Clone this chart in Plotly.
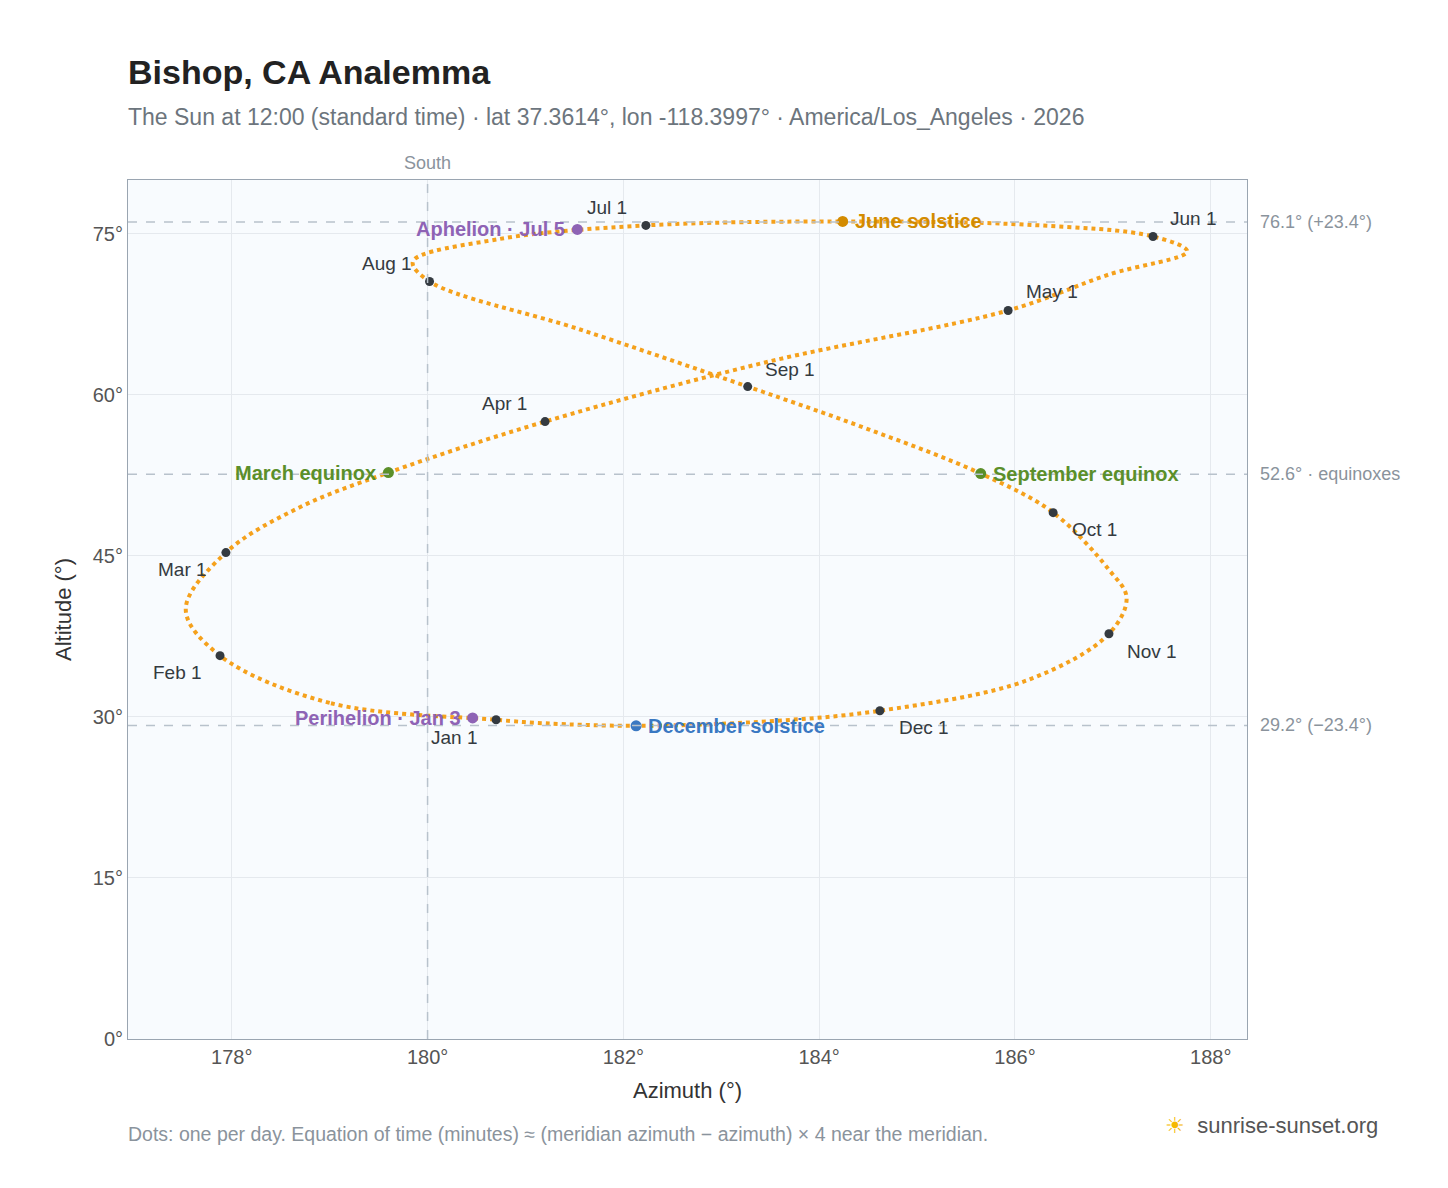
import plotly.graph_objects as go

# path of the sun at noon (date order, Jan 1 -> Dec 31)
path_az = [180.70, 179.00, 177.88, 177.53, 177.94, 178.69, 179.60, 181.20, 183.49, 185.93,
           186.96, 187.76, 187.41, 186.20, 184.24, 182.23, 180.73, 179.85, 180.02, 181.55,
           183.27, 184.51, 185.65, 186.39, 186.96, 187.14, 186.96, 186.14, 184.62, 183.39,
           182.13, 181.20, 180.70]
path_alt = [29.73, 31.30, 35.70, 40.00, 45.30, 49.50, 52.75, 57.50, 63.10, 67.85,
            71.20, 73.35, 74.74, 75.80, 76.14, 75.77, 74.50, 72.40, 70.55, 66.10,
            60.76, 56.76, 52.66, 49.02, 43.70, 41.10, 37.74, 33.46, 30.57, 29.54,
            29.17, 29.40, 29.73]

months = ["Jan 1", "Feb 1", "Mar 1", "Apr 1", "May 1", "Jun 1",
          "Jul 1", "Aug 1", "Sep 1", "Oct 1", "Nov 1", "Dec 1"]
month_az = [180.70, 177.88, 177.94, 181.20, 185.93, 187.41,
            182.23, 180.02, 183.27, 186.39, 186.96, 184.62]
month_alt = [29.73, 35.70, 45.30, 57.50, 67.85, 74.74,
             75.77, 70.55, 60.76, 49.02, 37.74, 30.57]
month_shift = [(-42, -18), (-43, -17), (-43, -17), (-41, 18), (44, 19), (40, 18),
               (-39, 18), (-43, 18), (42, 17), (41, -17), (43, -18), (44, -17)]

events = ["March equinox", "June solstice", "September equinox",
          "December solstice", "Aphelion · Jul 5", "Perihelion · Jan 3"]
event_az = [179.60, 184.24, 185.65, 182.13, 181.53, 180.46]
event_alt = [52.75, 76.14, 52.66, 29.17, 75.40, 29.90]
event_color = ["#5b8f2a", "#d38b00", "#5b8f2a", "#3a78c2", "#8e63b5", "#8e63b5"]
event_side = ["right", "left", "left", "left", "right", "right"]

ref_alt = [76.1, 52.6, 29.2]
ref_text = ["76.1° (+23.4°)", "52.6° · equinoxes", "29.2° (−23.4°)"]

# the page draws the figure 8px in from the corner
OFF = 8
L, R, T, B = 128 - OFF, 1247 - OFF, 180 - OFF, 1039 - OFF


def px(x):
    return (x - OFF - L) / (R - L)


def py(y):
    return (B - (y - OFF)) / (B - T)


fig = go.Figure()
fig.add_trace(go.Scatter(x=path_az, y=path_alt, mode="lines",
                         line=dict(color="#f5a11c", width=4, dash="dot", shape="spline", smoothing=1.0),
                         hoverinfo="skip", showlegend=False))
fig.add_trace(go.Scatter(x=month_az, y=month_alt, mode="markers",
                         marker=dict(color="#343a40", size=9), text=months, showlegend=False))
fig.add_trace(go.Scatter(x=event_az, y=event_alt, mode="markers",
                         marker=dict(color=event_color, size=11), text=events, showlegend=False))

for name, x, y, (dx, dy) in zip(months, month_az, month_alt, month_shift):
    fig.add_annotation(x=x, y=y, text=name, showarrow=False, xshift=dx, yshift=dy,
                       font=dict(size=19, color="#343a40"))
for name, x, y, c, side in zip(events, event_az, event_alt, event_color, event_side):
    fig.add_annotation(x=x, y=y, text=f"<b>{name}</b>", showarrow=False,
                       xanchor="right" if side == "right" else "left",
                       xshift=-10 if side == "right" else 10,
                       font=dict(size=20, color=c))

for a, t in zip(ref_alt, ref_text):
    fig.add_hline(y=a, line=dict(color="#b8c2cc", width=1.5, dash="dash"))
    fig.add_annotation(x=1.01, xref="paper", y=a, text=t, showarrow=False, xanchor="left",
                       font=dict(size=18, color="#8a939c"))
fig.add_vline(x=180, line=dict(color="#b8c2cc", width=1.5, dash="dash"))
fig.add_annotation(x=180, y=1.0, yref="paper", text="South", showarrow=False, yanchor="bottom",
                   yshift=5, font=dict(size=18, color="#8a939c"))

fig.add_annotation(x=px(126), y=py(51), xref="paper", yref="paper", xanchor="left",
                   text="<b>Bishop, CA Analemma</b>", showarrow=False,
                   font=dict(size=34, color="#222"))
fig.add_annotation(x=px(126), y=py(102), xref="paper", yref="paper", xanchor="left",
                   text="The Sun at 12:00 (standard time) · lat 37.3614°, lon -118.3997° · America/Los_Angeles · 2026",
                   showarrow=False, font=dict(size=23, color="#6c757d"))
fig.add_annotation(x=px(126), y=py(1147), xref="paper", yref="paper", xanchor="left",
                   text="Dots: one per day. Equation of time (minutes) ≈ (meridian azimuth − azimuth) × 4 near the meridian.",
                   showarrow=False, font=dict(size=19.5, color="#8a939c"))
fig.add_annotation(x=px(1380), y=py(1140), xref="paper", yref="paper", xanchor="right",
                   text="<span style='color:#f5b800'>☀</span>  sunrise-sunset.org",
                   showarrow=False, font=dict(size=22, color="#555"))

fig.update_layout(
    width=1448, height=1188,
    margin=dict(l=L, r=1448 - R, t=T, b=1188 - B),
    paper_bgcolor="white", plot_bgcolor="#f8fbfe",
    font=dict(family="Liberation Sans, Arial, sans-serif", color="#555"),
    xaxis=dict(range=[176.94, 188.37], dtick=2, ticksuffix="°", showline=True, linecolor="#9aa5b1",
               mirror=True, gridcolor="#e5e9ee", zeroline=False, tickfont=dict(size=20),
               title=dict(text="Azimuth (°)", font=dict(size=22, color="#333"))),
    yaxis=dict(range=[0, 80], dtick=15, ticksuffix="°", showline=True, linecolor="#9aa5b1",
               mirror=True, gridcolor="#e5e9ee", zeroline=False, tickfont=dict(size=20),
               title=dict(text="Altitude (°)", font=dict(size=22, color="#333"))),
)

fig.write_html("out.html")
